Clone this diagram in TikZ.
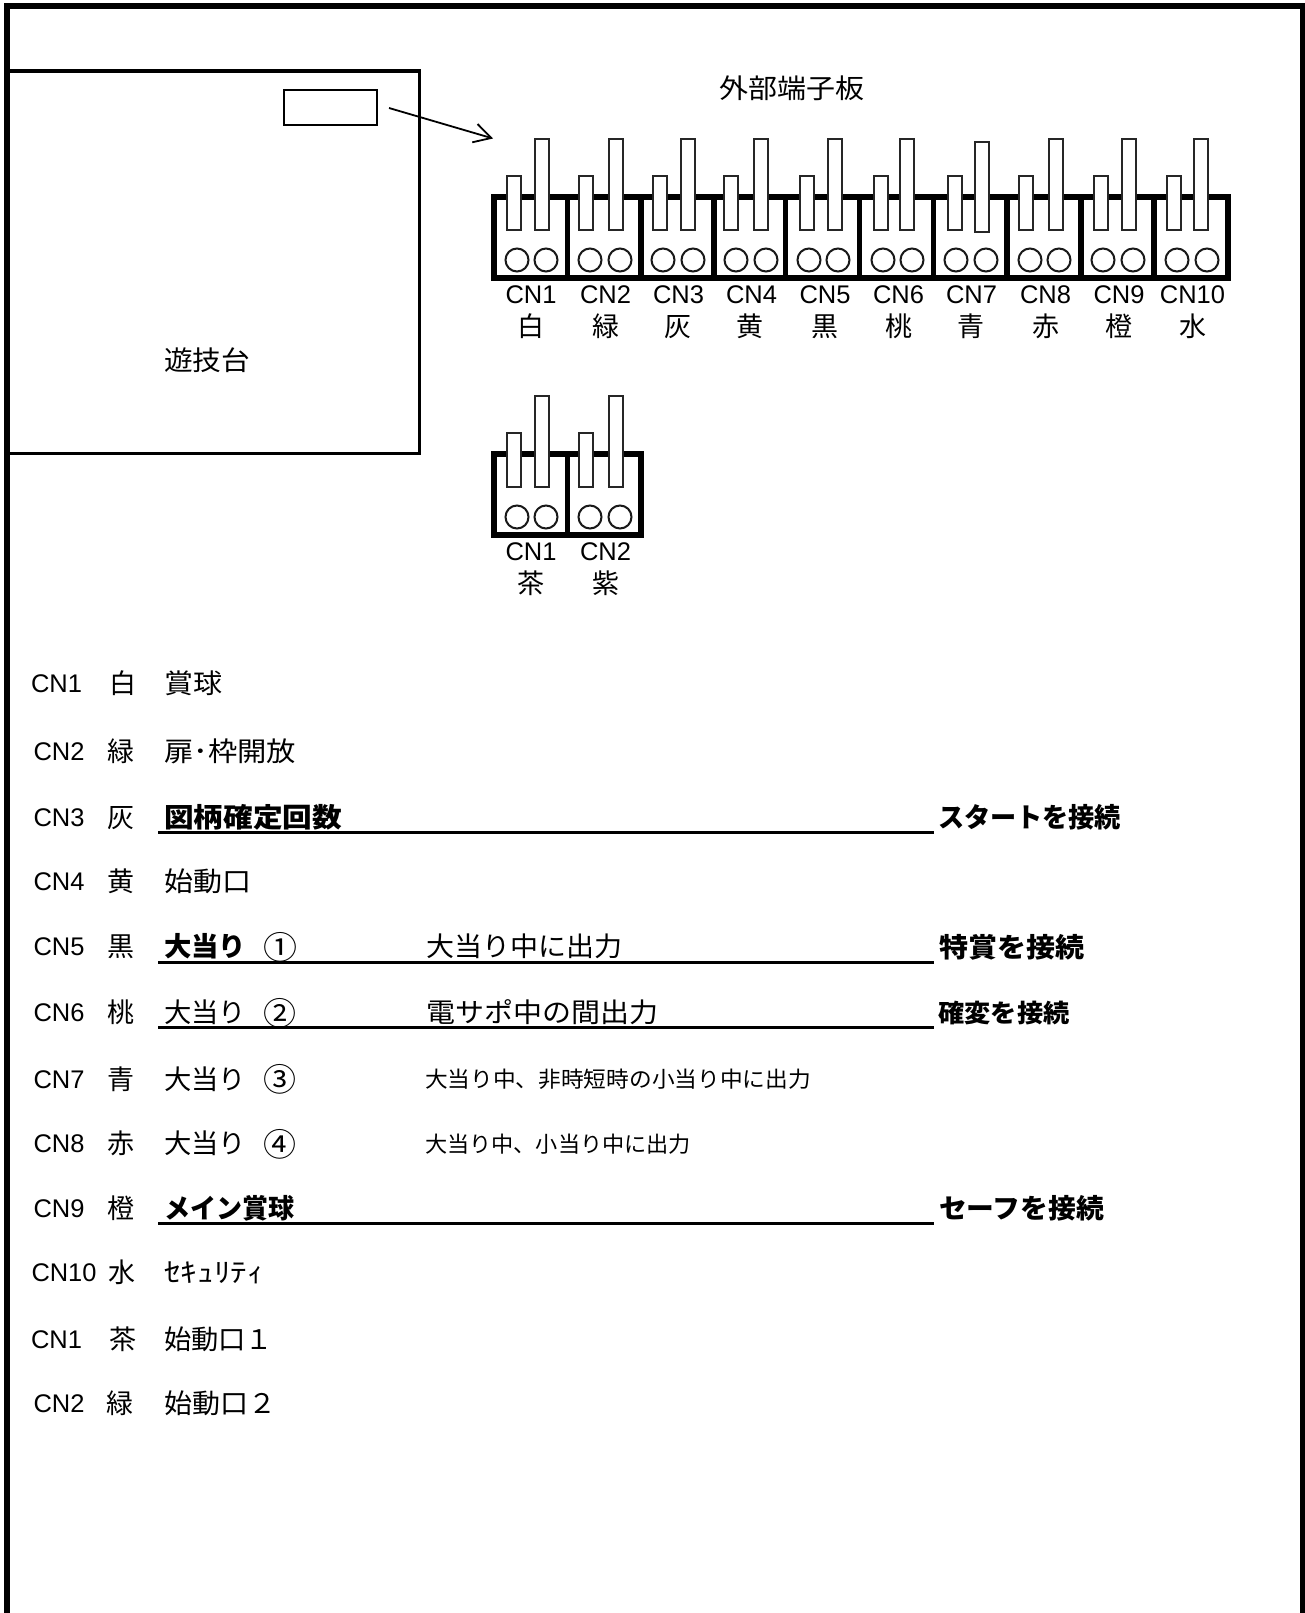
\documentclass[tikz,border=0pt]{standalone}
\usepackage{fontspec}
\usepackage{graphicx}
\usetikzlibrary{arrows.meta}
\setmainfont{Liberation Sans}
\newfontfamily\jp{Noto Sans CJK JP}
\newcommand{\fitw}[2]{\resizebox{#1pt}{\height}{#2}}
\tikzset{
  heavy/.style={draw=black,line width=6pt},
  divider/.style={draw=black,line width=5.5pt},
  thinbox/.style={draw=black,line width=2pt,fill=white},
  pin/.style={draw=black!85,line width=1.6pt,fill=white},
  hole/.style={draw=black!90,line width=2pt,fill=white},
  rule/.style={draw=black,line width=3pt},
  txt/.style={inner sep=0pt,outer sep=0pt,anchor=base west,text=black},
  ctr/.style={inner sep=0pt,outer sep=0pt,anchor=base,text=black},
  pointer/.style={draw=black,line width=1.8pt,-{Straight Barb[length=17pt,width=19pt,line width=1.8pt]}}
}
\newcommand{\jpn}{\jp\fontsize{27}{30}\selectfont}
\newcommand{\jpb}{\jp\bfseries\fontsize{27}{30}\selectfont}
\newcommand{\jpc}{\jp\fontsize{32}{34}\selectfont}
\newcommand{\lat}{\fontsize{25.5}{28}\selectfont}
\newcommand{\latb}{\fontsize{25.5}{28}\selectfont}
\begin{document}
\begin{tikzpicture}[x=1pt,y=-1pt]
\useasboundingbox (0,0) rectangle (1305,1613);
\fill[white] (0,0) rectangle (1305,1613);
% outer frame, open at the bottom
\draw[line width=6pt] (7,1613) -- (7,6) -- (1302.5,6) -- (1302.5,1613);
% game board
\draw[line width=3.2pt] (10,71) -- (419.5,71) -- (419.5,453.5) -- (10,453.5);
\node[thinbox,minimum width=93pt,minimum height=35pt,inner sep=0pt,anchor=north west] (port) at (283,89.5) {};
\coordinate (arrowA) at (389,108);
\coordinate (arrowB) at (493,138.5);
\draw[pointer] (arrowA) -- (arrowB);
\node[txt] (board) at (164,370) {\jpn\fitw{86}{遊技台}};
\node[txt] (title) at (719,98.5) {\jpn\fitw{145}{外部端子板}};
% terminal block, upper
\draw[heavy] (494,197) rectangle (1228,278);
\foreach \d in {567.5,641,714,785.5,859.5,933.5,1007,1081,1154}
  \draw[divider] (\d,197) -- (\d,278);
\foreach \a/\b/\c/\e/\t/\f/\cn/\cc/\nm/\cl in {
  506/534/517/546/138/231/531/531/CN1/白,
  578/608/590/620/138/231/605.5/605.5/CN2/緑,
  652/680/663/693/138/231/678.5/678/CN3/灰,
  723/753/736/766/138/231/751.5/750/CN4/黄,
  799/827/809/838/138/231/825/824.5/CN5/黒,
  873/899/883/912/138/231/898.5/898.5/CN6/桃,
  947/974/956/986/141/233/971.5/971/CN7/青,
  1018/1048/1030/1059/138/231/1045.5/1045.5/CN8/赤,
  1093/1121/1103/1133/138/231/1119/1119/CN9/橙,
  1166/1193/1177/1207/138/231/1192.5/1192.5/CN10/水}{
  \draw[pin] (\a+.8,175.8) rectangle (\a+14.7,230.2);
  \draw[pin] (\b+.8,\t+.8) rectangle (\b+14.7,\f-.8);
  \draw[hole] (\c,260) circle (11.5);
  \draw[hole] (\e,260) circle (11.5);
  \node[ctr] at (\cn,303.5) {\latb \nm};
  \node[ctr] at (\cc,336) {\jpn \cl};
}
% terminal block, lower
\draw[heavy] (494,454) rectangle (641,535);
\draw[divider] (567.5,454) -- (567.5,535);
\foreach \a/\b/\c/\e/\cn/\cc/\nm/\cl in {
  506/534/517/546/531/531/CN1/茶,
  578/608/590/620/605.5/605.5/CN2/紫}{
  \draw[pin] (\a+.8,432.8) rectangle (\a+14.7,487.2);
  \draw[pin] (\b+.8,395.8) rectangle (\b+14.7,487.2);
  \draw[hole] (\c,517) circle (11.5);
  \draw[hole] (\e,517) circle (11.5);
  \node[ctr] at (\cn,560.5) {\latb \nm};
  \node[ctr] at (\cc,593) {\jpn \cl};
}
% list: connector and colour
\foreach \y/\xa/\wa/\nm/\xb/\cl in {
  692/31/51/CN1/109.5/白,
  760/33.5/51/CN2/107.5/緑,
  826/33.5/51/CN3/107/灰,
  890/33.5/51/CN4/107/黄,
  955/33.5/51/CN5/107/黒,
  1021/33.5/51/CN6/107/桃,
  1088/33.5/51/CN7/107/青,
  1152/33.5/51/CN8/107/赤,
  1217/33.5/51/CN9/107/橙,
  1281/31.5/65/CN10/108.5/水,
  1348/31/51/CN1/109.5/茶,
  1412/33.5/51/CN2/106.5/緑}{
  \node[txt] at (\xa,\y) {\lat\fitw{\wa}{\nm}};
  \node[txt] at (\xb,\y+1.5) {\jpn\fitw{27}{\cl}};
}
% list: descriptions
\node[txt] at (164,693.5) {\jpn\fitw{58}{賞球}};
\node[txt] at (164,761.5) {\jpn\fitw{132}{扉･枠開放}};
\node[txt] at (164,827.5) {\jpb\fitw{178}{図柄確定回数}};
\node[txt] at (164,891.5) {\jpn\fitw{87}{始動口}};
\node[txt] at (164,956.5) {\jpb\fitw{82}{大当り}};
\node[txt] at (263,959) {\jpc\fitw{34}{①}};
\node[txt] at (164,1022.5) {\jpn\fitw{82}{大当り}};
\node[txt] at (263,1025) {\jpc\fitw{33}{②}};
\node[txt] at (164,1089) {\jpn\fitw{82}{大当り}};
\node[txt] at (263,1091.5) {\jpc\fitw{33}{③}};
\node[txt] at (164,1153.5) {\jpn\fitw{82}{大当り}};
\node[txt] at (263,1156) {\jpc\fitw{33}{④}};
\node[txt] at (164,1218.5) {\jpb\fitw{130}{メイン賞球}};
\node[txt] at (164,1282.5) {\jpn\fitw{100}{ｾｷｭﾘﾃｨ}};
\node[txt] at (164,1349.5) {\jpn\fitw{109}{始動口１}};
\node[txt] at (164,1413.5) {\jpn\fitw{112}{始動口２}};
\node[txt] at (426,956.5) {\jpn\fitw{196}{大当り中に出力}};
\node[txt] at (426,1022.5) {\jpn\fitw{232}{電サポ中の間出力}};
\node[txt] at (425,1087) {\jp\fontsize{22}{24}\selectfont\fitw{386}{大当り中、非時短時の小当り中に出力}};
\node[txt] at (425,1152) {\jp\fontsize{22}{24}\selectfont\fitw{266}{大当り中、小当り中に出力}};
\node[txt] at (938,827.5) {\jpb\fitw{183}{スタートを接続}};
\node[txt] at (939,957.5) {\jpb\fitw{145}{特賞を接続}};
\node[txt] at (938.5,1022.5) {\jp\bfseries\fontsize{25}{27}\selectfont\fitw{131}{確変を接続}};
\node[txt] at (939,1218.5) {\jpb\fitw{165}{セーフを接続}};
% underlines
\draw[rule] (158,832) -- (934,832);
\draw[rule] (158,962) -- (934,962);
\draw[rule] (158,1027) -- (934,1027);
\draw[rule] (158,1223) -- (934,1223);
\end{tikzpicture}
\end{document}
